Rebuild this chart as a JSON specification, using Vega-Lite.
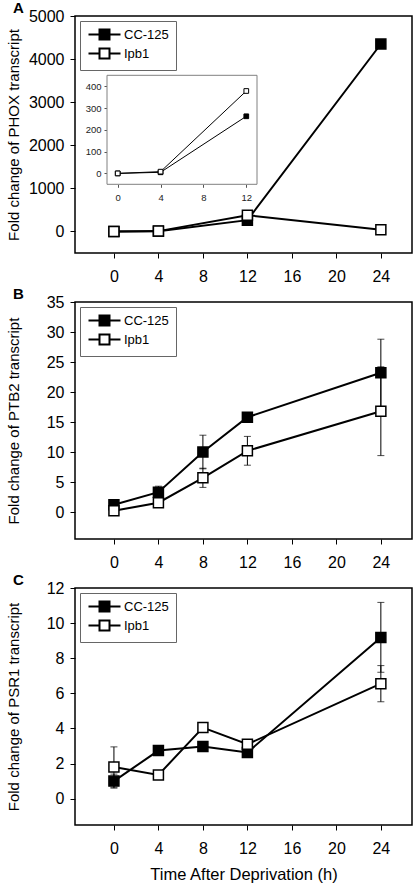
{
  "$schema": "https://vega.github.io/schema/vega-lite/v6.json",
  "background": "white",
  "padding": {"left": 5, "top": 0, "right": 3, "bottom": 3},
  "bounds": "flush",
  "spacing": 49,
  "datasets": {
    "A": [
      {"time": 0, "series": "CC-125", "value": 0},
      {"time": 4, "series": "CC-125", "value": 5},
      {"time": 12, "series": "CC-125", "value": 262},
      {"time": 24, "series": "CC-125", "value": 4350},
      {"time": 0, "series": "Ipb1", "value": 0},
      {"time": 4, "series": "Ipb1", "value": 8},
      {"time": 12, "series": "Ipb1", "value": 378},
      {"time": 24, "series": "Ipb1", "value": 40}
    ],
    "B": [
      {"time": 0, "series": "CC-125", "value": 1.2},
      {"time": 4, "series": "CC-125", "value": 3.3},
      {"time": 8, "series": "CC-125", "value": 10.0},
      {"time": 12, "series": "CC-125", "value": 15.8},
      {"time": 24, "series": "CC-125", "value": 23.2},
      {"time": 0, "series": "Ipb1", "value": 0.2},
      {"time": 4, "series": "Ipb1", "value": 1.55},
      {"time": 8, "series": "Ipb1", "value": 5.7},
      {"time": 12, "series": "Ipb1", "value": 10.2},
      {"time": 24, "series": "Ipb1", "value": 16.8}
    ],
    "errB": [
      {"time": 4, "series": "CC-125", "lo": 2.3, "hi": 4.3},
      {"time": 8, "series": "CC-125", "lo": 7.2, "hi": 12.8},
      {"time": 24, "series": "CC-125", "lo": 17.6, "hi": 28.8},
      {"time": 8, "series": "Ipb1", "lo": 4.1, "hi": 7.3},
      {"time": 12, "series": "Ipb1", "lo": 7.8, "hi": 12.6},
      {"time": 24, "series": "Ipb1", "lo": 9.4, "hi": 24.2}
    ],
    "C": [
      {"time": 0, "series": "CC-125", "value": 1.0},
      {"time": 4, "series": "CC-125", "value": 2.74},
      {"time": 8, "series": "CC-125", "value": 2.97},
      {"time": 12, "series": "CC-125", "value": 2.63},
      {"time": 24, "series": "CC-125", "value": 9.18},
      {"time": 0, "series": "Ipb1", "value": 1.8},
      {"time": 4, "series": "Ipb1", "value": 1.35},
      {"time": 8, "series": "Ipb1", "value": 4.05},
      {"time": 12, "series": "Ipb1", "value": 3.1},
      {"time": 24, "series": "Ipb1", "value": 6.55}
    ],
    "errC": [
      {"time": 0, "series": "CC-125", "lo": 0.6, "hi": 1.4},
      {"time": 0, "series": "Ipb1", "lo": 0.65, "hi": 2.95},
      {"time": 24, "series": "CC-125", "lo": 7.2, "hi": 11.18},
      {"time": 24, "series": "Ipb1", "lo": 5.52, "hi": 7.58}
    ]
  },
  "config": {
    "font": "Liberation Sans",
    "view": {"stroke": "black", "strokeWidth": 1.5},
    "axis": {
      "grid": false, "domain": false, "tickColor": "black", "tickSize": 5, "tickWidth": 1,
      "labelColor": "black", "labelFontSize": 16, "labelPadding": 6, "labelOverlap": false,
      "titleFontSize": 15, "titleFontWeight": "normal", "titleColor": "black"
    },
    "legend": {
      "orient": "top-left", "offset": 5, "padding": 7, "strokeColor": "#666", "fillColor": "white",
      "labelFontSize": 13, "labelColor": "black", "labelOffset": 24, "rowPadding": 0,
      "symbolType": "M-1,0H1.2M3.2,0H5.4M1.2,-1H3.2V1H1.2Z", "symbolSize": 100,
      "symbolStrokeColor": "black", "symbolStrokeWidth": 2
    },
    "title": {"anchor": "start", "frame": "group", "fontSize": 15, "fontWeight": "bold", "color": "black", "dx": -62, "offset": -8, "baseline": "alphabetic"}
  },
  "resolve": {"scale": {"fill": "independent"}, "legend": {"fill": "independent"}},
  "vconcat": [
    {
      "width": 337, "height": 237,
      "title": {"text": "A"},
      "resolve": {"scale": {"x": "independent", "y": "independent"}, "axis": {"x": "independent", "y": "independent"}},
      "layer": [
        {
          "data": {"name": "A"},
          "encoding": {
            "x": {"field": "time", "type": "quantitative", "scale": {"domain": [-3.5, 26.8], "nice": false, "zero": false}, "axis": {"values": [0, 4, 8, 12, 16, 20, 24], "title": null, "labelPadding": 10}},
            "y": {"field": "value", "type": "quantitative", "scale": {"domain": [-500, 5000], "nice": false, "zero": false}, "axis": {"values": [0, 1000, 2000, 3000, 4000, 5000], "format": "d", "title": "Fold change of PHOX transcript", "titlePadding": 7}}
          },
          "layer": [
            {"mark": {"type": "line", "color": "black", "strokeWidth": 2}, "encoding": {"detail": {"field": "series"}}},
            {"mark": {"type": "point", "shape": "square", "filled": true, "size": 100, "stroke": "black", "strokeWidth": 1.5, "opacity": 1},
             "encoding": {"fill": {"field": "series", "type": "nominal", "scale": {"domain": ["CC-125", "Ipb1"], "range": ["black", "white"]}, "legend": {"title": null}}}}
          ]
        },
        {
          "layer": [
            {
              "data": {"values": [{}]},
              "mark": {"type": "rect", "fill": "white", "stroke": "#808080", "strokeWidth": 1},
              "encoding": {
                "x": {"datum": -1, "type": "quantitative", "scale": {"domain": [-1, 13], "range": [32, 182], "nice": false, "zero": false}, "axis": {"orient": "bottom", "offset": -68.7, "values": [0, 4, 8, 12], "title": null, "labelFontSize": 9.5, "tickSize": 3, "labelPadding": 5, "tickColor": "#555", "labelColor": "#222"}},
                "x2": {"datum": 13},
                "y": {"datum": -50, "type": "quantitative", "scale": {"domain": [-50, 450], "range": [168.3, 59.3], "nice": false, "zero": false}, "axis": {"orient": "left", "offset": -32, "values": [0, 100, 200, 300, 400], "title": null, "labelFontSize": 9.5, "tickSize": 3, "labelPadding": 3, "tickColor": "#555", "labelColor": "#222"}},
                "y2": {"datum": 450}
              }
            },
            {
              "data": {"name": "A"},
              "transform": [{"filter": "datum.time <= 12"}],
              "mark": {"type": "line", "color": "black", "strokeWidth": 1},
              "encoding": {
                "x": {"field": "time", "type": "quantitative"},
                "y": {"field": "value", "type": "quantitative"},
                "detail": {"field": "series"}
              }
            },
            {
              "data": {"name": "A"},
              "transform": [{"filter": "datum.time <= 12"}],
              "mark": {"type": "point", "shape": "square", "filled": true, "size": 22, "stroke": "black", "strokeWidth": 1, "opacity": 1},
              "encoding": {
                "x": {"field": "time", "type": "quantitative"},
                "y": {"field": "value", "type": "quantitative"},
                "fill": {"field": "series", "type": "nominal", "legend": null}
              }
            }
          ]
        }
      ]
    },
    {
      "width": 337, "height": 237,
      "title": {"text": "B"},
      "encoding": {
        "x": {"field": "time", "type": "quantitative", "scale": {"domain": [-3.5, 26.8], "nice": false, "zero": false}, "axis": {"values": [0, 4, 8, 12, 16, 20, 24], "title": null, "labelPadding": 10}}
      },
      "layer": [
        {
          "data": {"name": "B"},
          "mark": {"type": "line", "color": "black", "strokeWidth": 2},
          "encoding": {
            "y": {"field": "value", "type": "quantitative", "scale": {"domain": [-4.5, 35], "nice": false, "zero": false}, "axis": {"values": [0, 5, 10, 15, 20, 25, 30, 35], "title": "Fold change of PTB2 transcript", "titlePadding": 25}},
            "detail": {"field": "series"}
          }
        },
        {
          "data": {"name": "errB"},
          "mark": {"type": "errorbar", "color": "black", "thickness": 1, "size": 7, "ticks": true},
          "encoding": {
            "y": {"field": "lo", "type": "quantitative", "scale": {"domain": [-4.5, 35], "nice": false, "zero": false}, "axis": {"values": [0, 5, 10, 15, 20, 25, 30, 35], "title": "Fold change of PTB2 transcript", "titlePadding": 25}},
            "y2": {"field": "hi"}
          }
        },
        {
          "data": {"name": "B"},
          "mark": {"type": "point", "shape": "square", "filled": true, "size": 100, "stroke": "black", "strokeWidth": 1.5, "opacity": 1},
          "encoding": {
            "y": {"field": "value", "type": "quantitative", "scale": {"domain": [-4.5, 35], "nice": false, "zero": false}, "axis": {"values": [0, 5, 10, 15, 20, 25, 30, 35], "title": "Fold change of PTB2 transcript", "titlePadding": 25}},
            "fill": {"field": "series", "type": "nominal", "scale": {"domain": ["CC-125", "Ipb1"], "range": ["black", "white"]}, "legend": {"title": null}}
          }
        }
      ]
    },
    {
      "width": 337, "height": 237,
      "title": {"text": "C"},
      "encoding": {
        "x": {"field": "time", "type": "quantitative", "scale": {"domain": [-3.5, 26.8], "nice": false, "zero": false}, "axis": {"values": [0, 4, 8, 12, 16, 20, 24], "title": "Time After Deprivation (h)", "titleFontSize": 16.5, "labelPadding": 10, "titlePadding": 10}}
      },
      "layer": [
        {
          "data": {"name": "C"},
          "mark": {"type": "line", "color": "black", "strokeWidth": 2},
          "encoding": {
            "y": {"field": "value", "type": "quantitative", "scale": {"domain": [-1.5, 12], "nice": false, "zero": false}, "axis": {"values": [0, 2, 4, 6, 8, 10, 12], "title": "Fold change of PSR1 transcript", "titlePadding": 25}},
            "detail": {"field": "series"}
          }
        },
        {
          "data": {"name": "errC"},
          "mark": {"type": "errorbar", "color": "black", "thickness": 1, "size": 7, "ticks": true},
          "encoding": {
            "y": {"field": "lo", "type": "quantitative", "scale": {"domain": [-1.5, 12], "nice": false, "zero": false}, "axis": {"values": [0, 2, 4, 6, 8, 10, 12], "title": "Fold change of PSR1 transcript", "titlePadding": 25}},
            "y2": {"field": "hi"}
          }
        },
        {
          "data": {"name": "C"},
          "mark": {"type": "point", "shape": "square", "filled": true, "size": 100, "stroke": "black", "strokeWidth": 1.5, "opacity": 1},
          "encoding": {
            "y": {"field": "value", "type": "quantitative", "scale": {"domain": [-1.5, 12], "nice": false, "zero": false}, "axis": {"values": [0, 2, 4, 6, 8, 10, 12], "title": "Fold change of PSR1 transcript", "titlePadding": 25}},
            "fill": {"field": "series", "type": "nominal", "scale": {"domain": ["CC-125", "Ipb1"], "range": ["black", "white"]}, "legend": {"title": null}}
          }
        }
      ]
    }
  ]
}
